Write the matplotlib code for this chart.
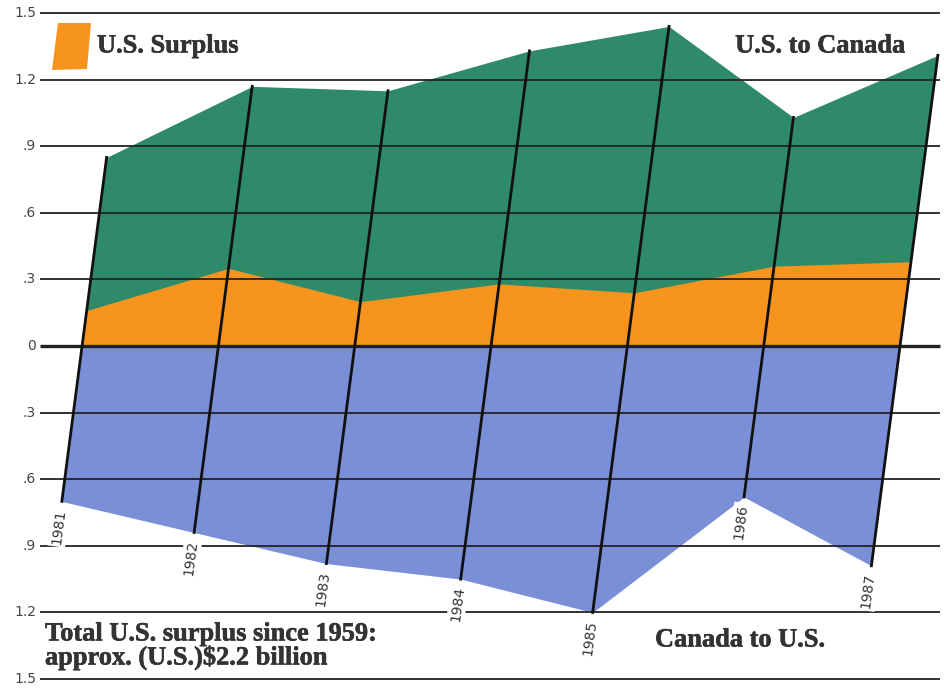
import matplotlib
matplotlib.use("Agg")
import matplotlib.pyplot as plt
import matplotlib.patheffects as pe
from matplotlib.transforms import Affine2D
from matplotlib.patches import Polygon

# values in billions
years = [1981, 1982, 1983, 1984, 1985, 1986, 1987]
us_to_canada = [0.85, 1.17, 1.15, 1.33, 1.44, 1.03, 1.31]
us_surplus = [0.16, 0.35, 0.20, 0.28, 0.24, 0.36, 0.38]
canada_to_us = [0.70, 0.84, 0.98, 1.05, 1.20, 0.68, 0.99]

grid_levels = [1.5, 1.2, 0.9, 0.6, 0.3, 0, -0.3, -0.6, -0.9, -1.2, -1.5]
grid_labels = ["1.5", "1.2", ".9", ".6", ".3", "0", ".3", ".6", ".9", "1.2", "1.5"]

green = "#2e8a69"
orange = "#f7941e"
blue = "#7a8fd6"
ink = "#333333"

fig = plt.figure(figsize=(9.45, 6.89), dpi=100)
ax = fig.add_axes([0, 0, 1, 1])

# shear: x' = year + 0.212 * value, gives the slanted year lines
skew = Affine2D.from_values(1, 0, 0.212, 1, 0, 0)
tr = skew + ax.transData

neg = [-v for v in canada_to_us]
ax.fill_between(years, 0, us_to_canada, color=green, lw=0, transform=tr, zorder=1)
ax.fill_between(years, 0, us_surplus, color=orange, lw=0, transform=tr, zorder=2)
ax.fill_between(years, neg, 0, color=blue, lw=0, transform=tr, zorder=1)

# horizontal rules
for lvl, lab in zip(grid_levels, grid_labels):
    ax.plot([1980.69, 1987.295], [lvl, lvl], color="#222222",
            lw=2.4 if lvl == 0 else 1.3, zorder=3, solid_capstyle="butt")
    ax.text(1980.662, lvl, lab, ha="right", va="center", fontsize=10,
            color="#444444", zorder=6)

# slanted year lines and labels (read bottom to top, along the slant)
for yr, top, bot in zip(years, us_to_canada, neg):
    ax.plot([yr, yr], [bot, top], color="#111111", lw=2, transform=tr, zorder=4)
    ax.text(yr, bot - 0.035, str(yr), transform=tr, rotation=82.6,
            rotation_mode="anchor", ha="right", va="center", fontsize=10,
            color=ink, zorder=5,
            bbox=dict(fc="white", ec="none", pad=1.5))

ax.set_xlim(1980.398, 1987.33)
ax.set_ylim(-1.545, 1.559)
ax.axis("off")

# legend swatch
W, H = 945.0, 689.0
pts = [(58, 23), (91, 23), (87, 69), (52, 70)]
fig.patches.append(Polygon([(x / W, 1 - y / H) for x, y in pts], closed=True,
                           fc=orange, ec="none", transform=fig.transFigure))

bold = dict(family="Liberation Serif", fontweight="bold", color=ink, fontsize=19,
            path_effects=[pe.withStroke(linewidth=0.4, foreground=ink)])
fig.text(97 / W, 1 - 46 / H, "U.S. Surplus", ha="left", va="center", **bold)
fig.text(905 / W, 1 - 46 / H, "U.S. to Canada", ha="right", va="center", **bold)
fig.text(655 / W, 1 - 640 / H, "Canada to U.S.", ha="left", va="center", **bold)
fig.text(45 / W, 1 - 634 / H, "Total U.S. surplus since 1959:", ha="left",
         va="center", **bold)
fig.text(45 / W, 1 - 658 / H, "approx. (U.S.)$2.2 billion", ha="left",
         va="center", **bold)

fig.savefig("out.png", dpi=100)
